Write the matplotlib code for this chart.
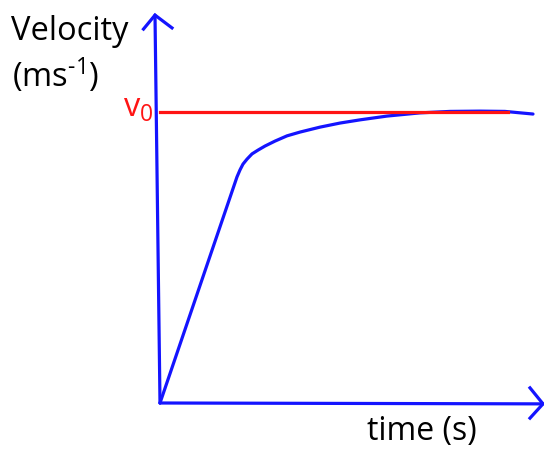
import numpy as np
import matplotlib
matplotlib.use("Agg")
import matplotlib.pyplot as plt

plt.rcParams['font.family'] = ['Open Sans', 'DejaVu Sans']
plt.rcParams['mathtext.fontset'] = 'custom'
plt.rcParams['mathtext.rm'] = 'Open Sans'
plt.rcParams['mathtext.it'] = 'Open Sans'

# data (time units arbitrary, velocity relative to v0)
time = [0.0, 0.77, 0.80, 0.83, 0.87, 0.92, 0.98, 1.05, 1.15, 1.27, 1.40, 1.60,
        1.80, 2.00, 2.27, 2.60, 2.90, 3.20, 3.45, 3.73]
velocity = [0.0, 0.777, 0.801, 0.821, 0.838, 0.856, 0.869, 0.883, 0.900, 0.918, 0.931, 0.948,
            0.962, 0.973, 0.986, 0.997, 1.002, 1.003, 1.002, 0.993]
v0 = 1.0
v0_end = 3.48
x_label = "time (s)"
y_label_1 = "Velocity"
y_label_2 = "(ms$^{\\text{-1}}$)"
v0_label = "v$_0$"

fig = plt.figure(figsize=(5.44, 4.51), dpi=100)
ax = fig.add_axes([0, 0, 1, 1])
ax.set_xlim(-1.6, 3.84)
ax.set_ylim(-48 / 291, (451 - 48) / 291)
ax.axis('off')

blue = '#1414ff'
red = '#ff1414'
lw = 2.3

# axes lines with arrows
ax.plot([0, -0.05], [0, 1.333], color=blue, lw=lw, solid_capstyle='round')
ax.plot([-0.165, -0.05, 0.12], [1.285, 1.333, 1.289], color=blue, lw=lw, solid_joinstyle='miter')
ax.plot([0, 3.83], [0, -0.003], color=blue, lw=lw, solid_capstyle='round')
ax.plot([3.70, 3.83, 3.70], [0.052, -0.003, -0.052], color=blue, lw=lw)

# curve
ax.plot(time, velocity, color=blue, lw=lw, solid_joinstyle='round', solid_capstyle='round')
# v0 line
ax.plot([0, v0_end], [v0, v0], color=red, lw=lw)

# labels
fs = 23.5
ax.text(-1.49, 1.247, y_label_1, fontsize=fs, color='black', ha='left', va='baseline')
ax.text(-1.48, 1.086, y_label_2, fontsize=fs, color='black', ha='left', va='baseline')
ax.text(-0.37, 0.983, v0_label, fontsize=fs, color=red, ha='left', va='baseline')
ax.text(2.07, -0.128, x_label, fontsize=23, color='black', ha='left', va='baseline')

fig.savefig('out.png', dpi=100)
